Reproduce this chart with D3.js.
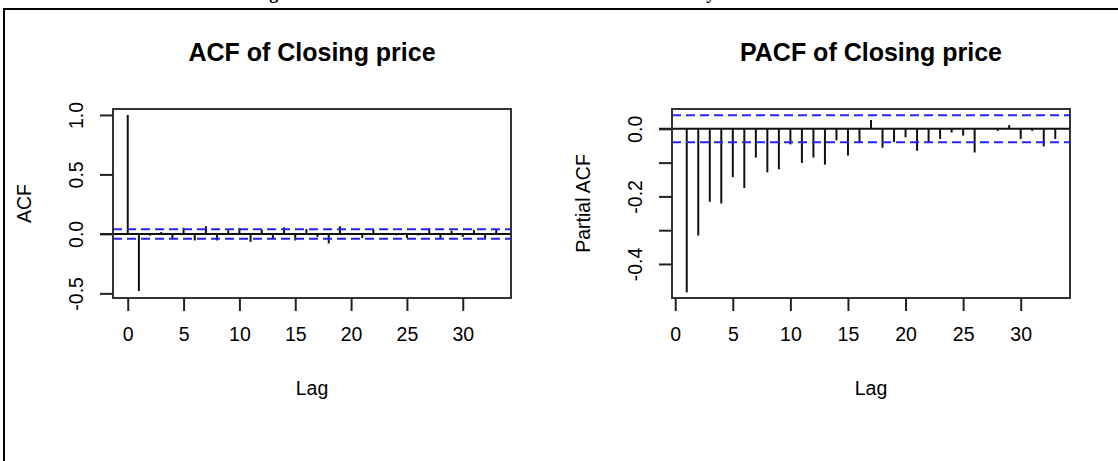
<!DOCTYPE html>
<html>
<head>
<meta charset="utf-8">
<script src="https://cdn.jsdelivr.net/npm/d3@7"></script>
<style>
    body { margin: 0; background: #fff; }
    svg { display: block; }
    text { font-family: Arial, "Liberation Sans", sans-serif; fill: #000; }
</style>
</head>
<body>
<div id="chart"></div>
<script>
// lags and values
let acfLags = d3.range(0, 34);
let acfValues = [1.0, -0.48, -0.014, 0.015, -0.035, 0.052, -0.055, 0.065, -0.055, 0.03,
    0.05, -0.067, 0.036, -0.042, 0.055, -0.055, 0.041, -0.025, -0.08, 0.064,
    0.003, -0.035, 0.035, 0.004, -0.012, -0.035, -0.013, 0.05, -0.035, 0.027,
    -0.025, 0.033, -0.035, 0.036];

let pacfLags = d3.range(1, 34);
let pacfValues = [-0.484, -0.316, -0.216, -0.221, -0.143, -0.175, -0.085, -0.129, -0.12, -0.046,
    -0.101, -0.085, -0.106, -0.034, -0.079, -0.039, 0.026, -0.056, -0.039, -0.025,
    -0.065, -0.039, -0.03, -0.011, -0.02, -0.07, 0.0, -0.006, 0.011, -0.03,
    -0.006, -0.052, -0.03];

let confLimit = 0.04;
let xTicks = [0, 5, 10, 15, 20, 25, 30];
let acfYTicks = [-0.5, 0.0, 0.5, 1.0];
let pacfYTicks = [-0.4, -0.3, -0.2, -0.1, 0.0];
let pacfYLabels = [-0.4, -0.2, 0.0];

let width = 1118;
let height = 461;

let svg = d3.select('#chart')
    .append('svg')
    .attr('width', width)
    .attr('height', height);

// figure frame and the caption, cut off at the top as in the source
svg.append('path')
    .attr('d', 'M4,' + height + 'V9H' + width)
    .attr('fill', 'none')
    .attr('stroke', '#000')
    .attr('stroke-width', 2);

svg.append('text')
    .attr('x', 250)
    .attr('y', -1)
    .attr('textLength', 530)
    .style('font-family', '"Liberation Serif", "Times New Roman", serif')
    .style('font-weight', 'bold')
    .style('font-size', '18px')
    .text('Figure 4: Autocorrelation of the Stock Index Daily Closes');

function fmt(d) {
    return d3.format('.1f')(d).replace('\u2212', '-');
}

function corrPlot(opts) {
    let x = d3.scaleLinear().domain(opts.xDomain).range([opts.left, opts.right]);
    let y = d3.scaleLinear().domain(opts.yDomain).range([opts.bottom, opts.top]);
    let g = svg.append('g');

    // stems
    g.selectAll('line.stem')
        .data(opts.lags)
        .enter()
        .append('line')
        .attr('class', 'stem')
        .attr('x1', function(d) { return x(d); })
        .attr('x2', function(d) { return x(d); })
        .attr('y1', y(0))
        .attr('y2', function(d, i) { return y(opts.values[i]); })
        .attr('stroke', '#111')
        .attr('stroke-width', 2);

    // zero line
    g.append('line')
        .attr('x1', opts.left - 13).attr('x2', opts.right)
        .attr('y1', y(0)).attr('y2', y(0))
        .attr('stroke', '#111')
        .attr('stroke-width', 2);

    // confidence bounds
    g.selectAll('line.conf')
        .data([confLimit, -confLimit])
        .enter()
        .append('line')
        .attr('class', 'conf')
        .attr('x1', opts.left).attr('x2', opts.right)
        .attr('y1', function(d) { return y(d); })
        .attr('y2', function(d) { return y(d); })
        .attr('stroke', '#2424ff')
        .attr('stroke-width', 2)
        .attr('stroke-dasharray', '9,5');

    // box
    g.append('rect')
        .attr('x', opts.left).attr('y', opts.top)
        .attr('width', opts.right - opts.left)
        .attr('height', opts.bottom - opts.top)
        .attr('fill', 'none')
        .attr('stroke', '#333')
        .attr('stroke-width', 2);

    // axes
    let xAxis = d3.axisBottom(x).tickValues(xTicks).tickSize(13).tickPadding(16)
        .tickFormat(d3.format('d'));
    let xg = g.append('g')
        .attr('transform', 'translate(0,' + opts.bottom + ')')
        .call(xAxis);

    let yAxis = d3.axisLeft(y).tickValues(opts.yTicks).tickSize(13)
        .tickFormat(function(d) {
            return opts.yLabels.indexOf(d) >= 0 ? fmt(d) : '';
        });
    let yg = g.append('g')
        .attr('transform', 'translate(' + opts.left + ',0)')
        .call(yAxis);

    [xg, yg].forEach(function(a) {
        a.select('.domain').remove();
        a.selectAll('line').attr('stroke', '#222').attr('stroke-width', 2);
        a.selectAll('text')
            .style('font-family', 'Arial, "Liberation Sans", sans-serif')
            .style('font-size', '19.5px')
            .attr('fill', '#111');
    });
    xg.selectAll('text').attr('dy', '0.71em');

    // R draws the y labels parallel to the axis
    yg.selectAll('.tick text')
        .attr('x', null)
        .attr('text-anchor', 'middle')
        .attr('transform', 'translate(-37,0) rotate(-90)')
        .attr('dy', '0.35em');

    // titles
    g.append('text')
        .attr('x', (opts.left + opts.right) / 2)
        .attr('y', 61)
        .attr('text-anchor', 'middle')
        .style('font-weight', 'bold')
        .style('font-size', '25px')
        .text(opts.title);

    g.append('text')
        .attr('x', (opts.left + opts.right) / 2)
        .attr('y', 395)
        .attr('text-anchor', 'middle')
        .style('font-size', '19.5px')
        .text('Lag');

    g.append('text')
        .attr('transform', 'translate(' + (opts.left - 89) + ',' + ((opts.top + opts.bottom) / 2) + ') rotate(-90)')
        .attr('text-anchor', 'middle')
        .attr('dy', '0.35em')
        .style('font-size', '19.5px')
        .text(opts.yTitle);
}

corrPlot({
    lags: acfLags, values: acfValues,
    xDomain: [-1.32, 34.32], yDomain: [-0.539, 1.05],
    left: 113, right: 511, top: 109, bottom: 298,
    yTicks: acfYTicks, yLabels: acfYTicks,
    title: 'ACF of Closing price', yTitle: 'ACF'
});

corrPlot({
    lags: pacfLags, values: pacfValues,
    xDomain: [-0.28, 34.28], yDomain: [-0.5007, 0.0587],
    left: 672, right: 1070, top: 109, bottom: 298,
    yTicks: pacfYTicks, yLabels: pacfYLabels,
    title: 'PACF of Closing price', yTitle: 'Partial ACF'
});
</script>
</body>
</html>
